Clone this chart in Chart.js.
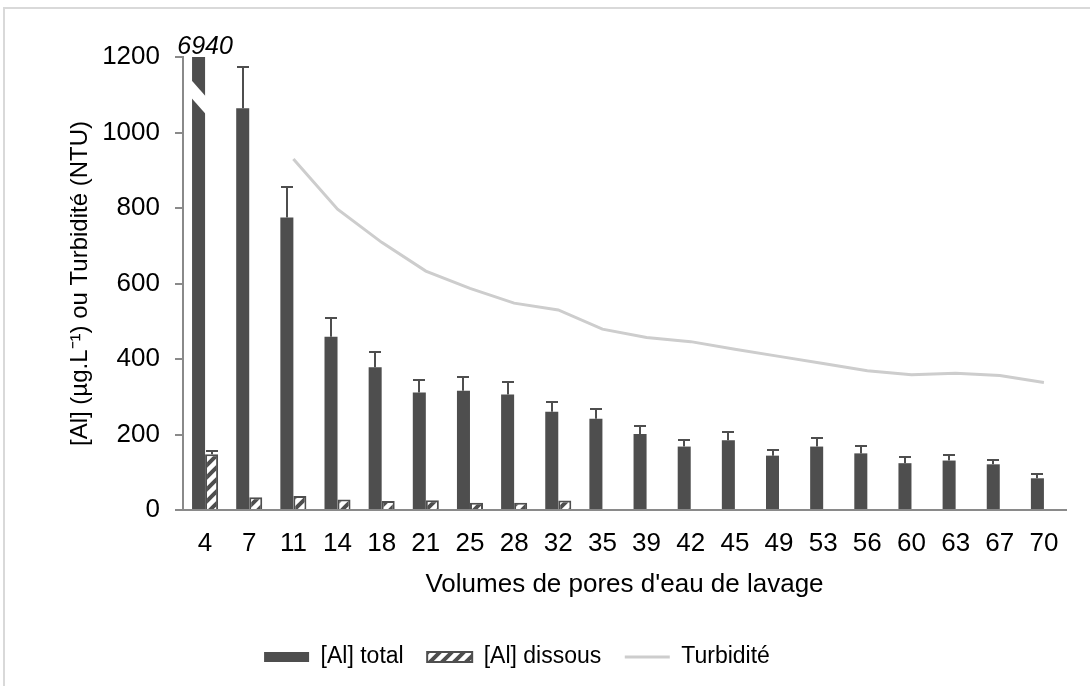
<!DOCTYPE html>
<html>
<head>
<meta charset="utf-8">
<title>[Al] et turbidité selon les volumes de pores</title>
<script src="https://cdn.jsdelivr.net/npm/chart.js@4.4.0/dist/chart.umd.min.js"></script>
<style>
  html, body { margin: 0; padding: 0; background: #ffffff; }
  #wrap { width: 1090px; height: 686px; position: relative; }
</style>
</head>
<body>
<div id="wrap"><canvas id="chart" width="1090" height="686"></canvas></div>
<script>
// Volumes de pores d'eau de lavage (catégories)
const volumes = ['4', '7', '11', '14', '18', '21', '25', '28', '32', '35',
                 '39', '42', '45', '49', '53', '56', '60', '63', '67', '70'];

// [Al] total (µg/L) et écart positif
const alTotal    = [6940, 1064, 775, 459, 378, 311, 316, 306, 260, 242,
                    201, 168, 185, 144, 168, 150, 124, 131, 121, 84];
const alTotalErr = [null, 109, 80, 49, 40, 33, 35, 33, 26, 25,
                    22, 17, 22, 16, 22, 20, 16, 15, 11, 11];

// [Al] dissous (µg/L) et écart positif
const alDissous    = [148, 34, 37, 28, 24, 26, 19, 19, 25, null,
                      null, null, null, null, null, null, null, null, null, null];
const alDissousErr = [7, null, null, null, null, null, null, null, null, null,
                      null, null, null, null, null, null, null, null, null, null];

// Turbidité (NTU)
const turbidite = [null, null, 930, 797, 709, 633, 587, 548, 530, 479,
                   457, 446, 426, 407, 388, 369, 358, 362, 356, 338];

// Graduations de l'axe vertical
const yTicks = [0, 200, 400, 600, 800, 1000, 1200];

// Coupure de la barre hors échelle (en unités de l'axe)
const axisBreak = { low: 1048, high: 1095, slant: 45 };

const DARK = '#4e4e4e';
const AXIS = '#8a8a8a';
const TURB = '#cdcdcd';
const FONT = "'Liberation Sans', Arial, Helvetica, sans-serif";

Chart.defaults.font.family = FONT;
Chart.defaults.color = '#000000';

// Hachures montantes pour [Al] dissous
function hatchPattern() {
  const s = 12;
  const c = document.createElement('canvas');
  c.width = s; c.height = s;
  const g = c.getContext('2d');
  g.fillStyle = '#ffffff';
  g.fillRect(0, 0, s, s);
  g.strokeStyle = DARK;
  g.lineWidth = 4;
  g.beginPath();
  for (let k = -1; k <= 1; k++) {
    g.moveTo(-2 + k * s, s + 2);
    g.lineTo(s + 2 + k * s, -2);
  }
  g.stroke();
  return document.createElement('canvas').getContext('2d').createPattern(c, 'repeat');
}
const hatch = hatchPattern();

// Cadre gris clair autour de la figure
const frame = {
  id: 'frame',
  beforeDraw(chart) {
    const ctx = chart.ctx;
    ctx.save();
    ctx.fillStyle = '#ffffff';
    ctx.fillRect(0, 0, chart.width, chart.height);
    ctx.strokeStyle = '#d9d9d9';
    ctx.lineWidth = 2;
    ctx.beginPath();
    ctx.moveTo(4, chart.height);
    ctx.lineTo(4, 8);
    ctx.lineTo(chart.width, 8);
    ctx.stroke();
    ctx.restore();
  }
};

// Barres d'erreur (écart positif) au-dessus des barres
const errorBars = {
  id: 'errorBars',
  afterDatasetsDraw(chart) {
    const { ctx, chartArea, scales: { y } } = chart;
    ctx.save();
    ctx.beginPath();
    ctx.rect(chartArea.left, chartArea.top, chartArea.right - chartArea.left, chartArea.bottom - chartArea.top);
    ctx.clip();
    ctx.strokeStyle = DARK;
    ctx.lineWidth = 2;
    chart.data.datasets.forEach((ds, di) => {
      if (!ds.errorPlus) return;
      const meta = chart.getDatasetMeta(di);
      meta.data.forEach((bar, i) => {
        const v = ds.data[i], e = ds.errorPlus[i];
        if (v == null || e == null) return;
        const x = Math.round(bar.x);
        const yBase = y.getPixelForValue(v);
        const yTop = Math.round(y.getPixelForValue(v + e));
        ctx.beginPath();
        ctx.moveTo(x, yBase);
        ctx.lineTo(x, yTop);
        ctx.moveTo(x - 6, yTop);
        ctx.lineTo(x + 6, yTop);
        ctx.stroke();
      });
    });
    ctx.restore();
  }
};

// Barre hors échelle : coupure blanche et valeur réelle au-dessus
const overflowBar = {
  id: 'overflowBar',
  afterDatasetsDraw(chart) {
    const { ctx, chartArea, scales: { x, y } } = chart;
    const meta = chart.getDatasetMeta(0);
    const ds = chart.data.datasets[0];
    meta.data.forEach((bar, i) => {
      const v = ds.data[i];
      if (v == null || v <= y.max) return;
      const half = bar.width / 2 + 1;
      ctx.save();
      ctx.fillStyle = '#ffffff';
      ctx.beginPath();
      ctx.moveTo(bar.x - half, y.getPixelForValue(axisBreak.high + axisBreak.slant));
      ctx.lineTo(bar.x + half, y.getPixelForValue(axisBreak.high));
      ctx.lineTo(bar.x + half, y.getPixelForValue(axisBreak.low));
      ctx.lineTo(bar.x - half, y.getPixelForValue(axisBreak.low + axisBreak.slant));
      ctx.closePath();
      ctx.fill();
      ctx.fillStyle = '#000000';
      ctx.font = 'italic 25px ' + FONT;
      ctx.textAlign = 'center';
      ctx.textBaseline = 'alphabetic';
      ctx.fillText(String(v), x.getPixelForValue(i), chartArea.top - 3);
      ctx.restore();
    });
  }
};

// Décalage horizontal de la légende
const legendShift = {
  id: 'legendShift',
  afterLayout(chart) {
    if (chart.legend) {
      chart.legend.left -= 16;
      chart.legend.right -= 16;
    }
  }
};

new Chart(document.getElementById('chart'), {
  data: {
    labels: volumes,
    datasets: [
      {
        type: 'bar',
        label: '[Al] total',
        data: alTotal,
        errorPlus: alTotalErr,
        backgroundColor: DARK,
        borderWidth: 0,
        categoryPercentage: 0.59,
        barPercentage: 1.0,
        order: 2
      },
      {
        type: 'bar',
        label: '[Al] dissous',
        data: alDissous,
        errorPlus: alDissousErr,
        backgroundColor: hatch,
        borderColor: DARK,
        borderWidth: 2,
        categoryPercentage: 0.59,
        barPercentage: 1.0,
        order: 2
      },
      {
        type: 'line',
        label: 'Turbidité',
        data: turbidite,
        borderColor: TURB,
        borderWidth: 3,
        pointRadius: 0,
        tension: 0,
        fill: false,
        spanGaps: false,
        order: 1
      }
    ]
  },
  options: {
    responsive: false,
    animation: false,
    devicePixelRatio: 1,
    layout: { padding: { top: 57, right: 24, bottom: 7.5, left: 0 } },
    plugins: {
      tooltip: { enabled: false },
      legend: {
        position: 'bottom',
        labels: {
          usePointStyle: true,
          pointStyleWidth: 45,
          boxHeight: 10,
          padding: 23.5,
          color: '#000000',
          font: { size: 23 },
          generateLabels(chart) {
            const ds = chart.data.datasets;
            return [
              { text: ds[0].label, fillStyle: DARK, strokeStyle: DARK, lineWidth: 0, pointStyle: 'rect', datasetIndex: 0, hidden: false },
              { text: ds[1].label, fillStyle: hatch, strokeStyle: DARK, lineWidth: 2, pointStyle: 'rect', datasetIndex: 1, hidden: false },
              { text: ds[2].label, fillStyle: TURB, strokeStyle: TURB, lineWidth: 3, pointStyle: 'line', datasetIndex: 2, hidden: false }
            ];
          }
        }
      }
    },
    scales: {
      x: {
        offset: true,
        grid: { display: false, drawTicks: false },
        border: { color: AXIS, width: 2 },
        ticks: { font: { size: 26 }, color: '#000000', padding: 18, maxRotation: 0, autoSkip: false },
        title: {
          display: true,
          text: "Volumes de pores d'eau de lavage",
          color: '#000000',
          font: { size: 26 },
          padding: { top: 0, bottom: 22 }
        },
        afterFit(scale) { scale.height = 112; }
      },
      y: {
        min: 0,
        max: 1200,
        afterBuildTicks(scale) { scale.ticks = yTicks.map(v => ({ value: v })); },
        grid: { drawOnChartArea: false, drawTicks: true, tickLength: 8, color: AXIS, lineWidth: 2 },
        border: { color: AXIS, width: 2 },
        ticks: {
          font: { size: 26 },
          color: '#000000',
          padding: 15,
          callback: (value) => String(value)
        },
        title: {
          display: true,
          text: '[Al] (µg.L⁻¹) ou Turbidité (NTU)',
          color: '#000000',
          font: { size: 24 },
          padding: { top: 66, bottom: 0 }
        },
        afterFit(scale) { scale.width = 183; }
      }
    }
  },
  plugins: [frame, errorBars, overflowBar, legendShift]
});
</script>
</body>
</html>
